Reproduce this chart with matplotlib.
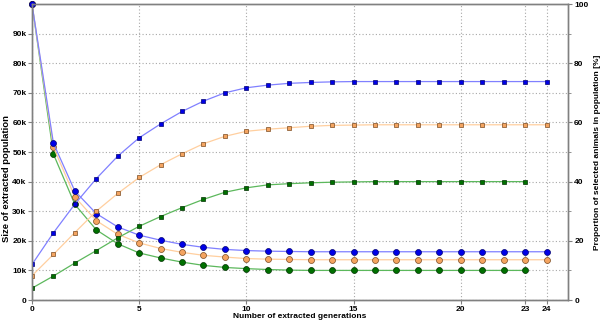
import matplotlib
matplotlib.use('Agg')
import matplotlib.pyplot as plt
import numpy as np
from matplotlib.ticker import FuncFormatter

plt.rcParams['font.family'] = ['Liberation Sans', 'DejaVu Sans']

# generations
gen_full = np.arange(0, 25)   # 0..24 (blue, orange)
gen_short = np.arange(0, 24)  # 0..23 (green)

# size of extracted population (left axis)
size_blue = [100000, 53000, 36800, 29200, 24700, 21900, 20200, 18800, 17800, 17100,
             16700, 16500, 16400, 16300, 16300, 16300, 16300, 16300, 16300, 16300,
             16300, 16300, 16300, 16300, 16300]
size_orange = [100000, 51700, 34800, 26800, 22200, 19300, 17400, 16100, 15100, 14500,
               14000, 13800, 13700, 13600, 13600, 13600, 13600, 13600, 13600, 13600,
               13600, 13600, 13600, 13600, 13600]
size_green = [100000, 49300, 32300, 23700, 19000, 15900, 14200, 12800, 11700, 11000,
              10600, 10300, 10100, 10000, 10000, 10000, 10000, 10000, 10000, 10000,
              10000, 10000, 10000, 10000]

# proportion of selected animals (right axis, %)
prop_blue = [12.0, 22.7, 32.4, 41.0, 48.6, 54.8, 59.5, 63.7, 67.2, 70.0,
             71.7, 72.6, 73.2, 73.5, 73.7, 73.8, 73.8, 73.8, 73.8, 73.8,
             73.8, 73.8, 73.8, 73.8, 73.8]
prop_orange = [8.2, 15.4, 22.8, 30.0, 36.0, 41.4, 45.7, 49.4, 52.8, 55.3,
               57.0, 57.7, 58.2, 58.7, 59.0, 59.1, 59.2, 59.2, 59.2, 59.2,
               59.2, 59.2, 59.2, 59.2, 59.2]
prop_green = [4.0, 8.1, 12.5, 16.7, 21.0, 24.9, 28.2, 31.2, 34.0, 36.4,
              37.9, 38.9, 39.3, 39.6, 39.8, 39.9, 40.0, 40.0, 40.0, 40.0,
              40.0, 40.0, 40.0, 40.0]

x_ticks = [0, 5, 10, 15, 20, 23, 24]

fig = plt.figure(figsize=(6, 3.21), dpi=100)
ax = fig.add_axes([0.0533, 0.0654, 0.8933, 0.9221])
ax2 = ax.twinx()

series = [
    (gen_full, size_blue, prop_blue, '#0000e6', '#000070', '#8080ff'),
    (gen_full, size_orange, prop_orange, '#f4a460', '#7a4a20', '#ffcf9f'),
    (gen_short, size_green, prop_green, '#007000', '#003000', '#5cb85c'),
]

# circles drawn green first so blue ends up on top at generation 0
for g, s, p, fc, ec, lc in reversed(series):
    ax.plot(g, s, color=lc, lw=0.9, marker='o', ms=4.3, mfc=fc, mec=ec, mew=0.5,
            clip_on=False)
for g, s, p, fc, ec, lc in series:
    ax2.plot(g, p, color=lc, lw=0.9, marker='s', ms=3.4, mfc=fc, mec=ec, mew=0.5)

ax.set_xlim(0, 25)
ax.set_ylim(0, 100000)
ax2.set_ylim(0, 100)

ax.set_yticks(np.arange(0, 100000, 10000))
ax.yaxis.set_major_formatter(FuncFormatter(lambda v, _: '0' if v == 0 else f'{int(v/1000)}k'))
ax.set_xticks(x_ticks)
ax2.set_yticks([0, 20, 40, 60, 80, 100])
ax2.set_yticks([10, 30, 50, 70, 90], minor=True)

grid_kw = dict(color='#a8a8a8', linestyle=(0, (1, 2)), linewidth=0.8)
ax.grid(True, axis='both', **grid_kw)
ax.set_axisbelow(True)

fs = 6
for a in (ax, ax2):
    for sp in a.spines.values():
        sp.set_color('#808080')
        sp.set_linewidth(1.0)
    a.tick_params(colors='#808080', labelcolor='black', labelsize=fs, length=3, width=0.8)
    for lab in a.get_xticklabels() + a.get_yticklabels():
        lab.set_fontweight('bold')
ax2.tick_params(which='minor', length=2, colors='#808080')
ax.tick_params(axis='x', pad=1)
ax.tick_params(axis='y', pad=1)
ax2.tick_params(axis='y', pad=1.5)

ax.set_xlabel('Number of extracted generations', fontsize=fs, fontweight='bold', labelpad=0.5)
ax.set_ylabel('Size of extracted population', fontsize=6.8, fontweight='bold')
ax.yaxis.set_label_coords(-0.04, 0.41)
ax2.set_ylabel('Proportion of selected animals in population [%]', fontsize=fs,
               fontweight='bold', labelpad=4)

fig.savefig('out.png', dpi=100)
